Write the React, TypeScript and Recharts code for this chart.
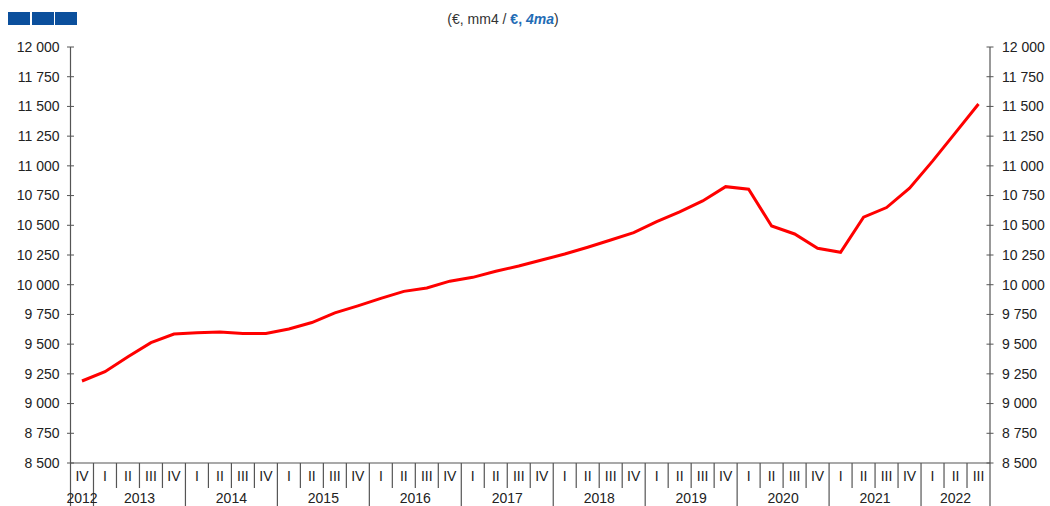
import { Line, LineChart, XAxis, YAxis } from "recharts";

const quarters = [
  "IV",
  "I", "II", "III", "IV",
  "I", "II", "III", "IV",
  "I", "II", "III", "IV",
  "I", "II", "III", "IV",
  "I", "II", "III", "IV",
  "I", "II", "III", "IV",
  "I", "II", "III", "IV",
  "I", "II", "III", "IV",
  "I", "II", "III", "IV",
  "I", "II", "III",
];

const years = [
  "2012",
  "2013", "2013", "2013", "2013",
  "2014", "2014", "2014", "2014",
  "2015", "2015", "2015", "2015",
  "2016", "2016", "2016", "2016",
  "2017", "2017", "2017", "2017",
  "2018", "2018", "2018", "2018",
  "2019", "2019", "2019", "2019",
  "2020", "2020", "2020", "2020",
  "2021", "2021", "2021", "2021",
  "2022", "2022", "2022",
];

const values = [
  9190,
  9268, 9394, 9512, 9585,
  9596, 9602, 9590, 9590,
  9628, 9682, 9763, 9822,
  9885, 9944, 9972, 10030,
  10062, 10113, 10157, 10208,
  10258, 10315, 10376, 10438,
  10530, 10612, 10705, 10825,
  10803, 10494, 10427, 10307,
  10273, 10568, 10649, 10812,
  11040, 11280, 11520,
];

const yTicks = [
  8500, 8750, 9000, 9250, 9500, 9750, 10000, 10250, 10500, 10750, 11000,
  11250, 11500, 11750, 12000,
];

const data = quarters.map((q, i) => ({
  key: `${years[i]}-${q}`,
  q,
  year: years[i],
  value: values[i],
}));

const W = 1050;
const H = 506;
const LEFT = 70.5;
const RIGHT = 60;
const TOP = 47;
const XH = 43;
const BW = (W - LEFT - RIGHT) / data.length;
const FONT = "'Liberation Sans', Arial, sans-serif";
const AXIS = "#555";

const fmt = (v: number) => {
  const s = String(v);
  return s.length > 3 ? s.slice(0, s.length - 3) + " " + s.slice(-3) : s;
};

const LeftTick = ({ x, y, payload }: any) => (
  <g>
    <line x1={x - 3.5} x2={x + 3.5} y1={y} y2={y} stroke={AXIS} />
    <text x={x - 11} y={y} dy="0.35em" textAnchor="end" fontSize={14} fill="#222" fontFamily={FONT}>
      {fmt(payload.value)}
    </text>
  </g>
);

const RightTick = ({ x, y, payload }: any) => (
  <g>
    <line x1={x - 3.5} x2={x + 3.5} y1={y} y2={y} stroke={AXIS} />
    <text x={x + 12} y={y} dy="0.35em" textAnchor="start" fontSize={14} fill="#222" fontFamily={FONT}>
      {fmt(payload.value)}
    </text>
  </g>
);

const QuarterTick = ({ x, y, payload, index }: any) => {
  const i = payload?.index ?? index;
  const yr = years[i];
  const isEnd = i === years.length - 1 || years[i + 1] !== yr;
  const isStart = i === 0 || years[i - 1] !== yr;
  const n = years.filter((v) => v === yr).length;
  const right = x + BW / 2;
  const left = x - BW / 2;
  return (
    <g>
      <text x={x} y={y + 13} dy="0.35em" textAnchor="middle" fontSize={14} fill="#222" fontFamily={FONT}>
        {quarters[i]}
      </text>
      <line x1={right} x2={right} y1={y} y2={isEnd ? y + XH : y + 25} stroke={AXIS} strokeWidth={1.2} />
      {i === 0 && <line x1={left} x2={left} y1={y} y2={y + XH} stroke={AXIS} strokeWidth={1.2} />}
      {isStart && (
        <text x={left + (n * BW) / 2} y={y + 35} dy="0.35em" textAnchor="middle" fontSize={14} fill="#222" fontFamily={FONT}>
          {yr}
        </text>
      )}
    </g>
  );
};

const App = () => {
  return (
    <div style={{ position: "absolute", left: 0, top: 0, width: W, height: H, background: "#fff", fontFamily: FONT }}>
      <div style={{ position: "absolute", left: 8, top: 12, display: "flex", gap: 1.5 }}>
        {[0, 1, 2].map((k) => (
          <div key={k} style={{ width: 22, height: 13, background: "#0b4f9c" }} />
        ))}
      </div>
      <div style={{ position: "absolute", left: 0, width: W, top: 11, textAlign: "center", fontSize: 14, color: "#333", paddingRight: 44, boxSizing: "border-box" }}>
        (€, mm4 /{" "}
        <span style={{ color: "#1f6cb5", fontWeight: "bold" }}>
          €, <i>4ma</i>
        </span>
        )
      </div>
      <LineChart width={W} height={H} data={data} margin={{ top: TOP, right: 0, bottom: 0, left: 0 }}>
        <XAxis
          dataKey="key"
          interval={0}
          height={XH}
          padding={{ left: BW / 2, right: BW / 2 }}
          tickLine={false}
          tickSize={0}
          tickMargin={0}
          tick={<QuarterTick />}
          axisLine={{ stroke: AXIS, strokeWidth: 1.2 }}
        />
        <YAxis
          yAxisId="left"
          orientation="left"
          width={LEFT}
          domain={[8500, 12000]}
          ticks={yTicks}
          interval={0}
          tickLine={false}
          tickSize={0}
          tickMargin={0}
          tick={<LeftTick />}
          axisLine={{ stroke: AXIS, strokeWidth: 1.2 }}
        />
        <YAxis
          yAxisId="right"
          orientation="right"
          width={RIGHT}
          domain={[8500, 12000]}
          ticks={yTicks}
          interval={0}
          tickLine={false}
          tickSize={0}
          tickMargin={0}
          tick={<RightTick />}
          axisLine={{ stroke: AXIS, strokeWidth: 1.2 }}
        />
        <Line
          yAxisId="right"
          type="linear"
          dataKey="value"
          stroke="none"
          dot={false}
          activeDot={false}
          legendType="none"
          isAnimationActive={false}
        />
        <Line
          yAxisId="left"
          type="linear"
          dataKey="value"
          stroke="#ff0000"
          strokeWidth={3}
          dot={false}
          isAnimationActive={false}
        />
      </LineChart>
    </div>
  );
};

export default App;
